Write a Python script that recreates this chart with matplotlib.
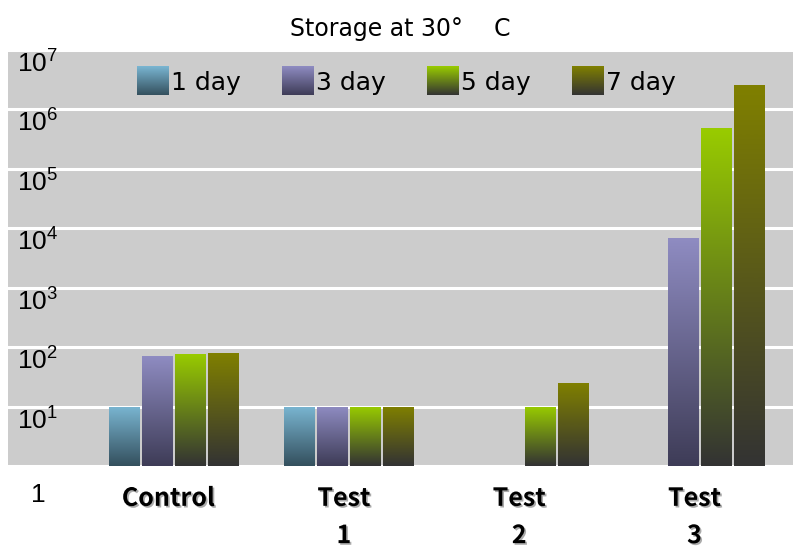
import numpy as np
import matplotlib
matplotlib.use("Agg")
import matplotlib.pyplot as plt
import matplotlib.patheffects as pe
from matplotlib import transforms
from matplotlib.colors import to_rgb
from matplotlib.image import BboxImage
from matplotlib.legend_handler import HandlerBase
from matplotlib.patches import Rectangle
from matplotlib.transforms import Bbox, TransformedBbox

# DATA
groups = ["Control", "Test\n1", "Test\n2", "Test\n3"]
series = ["1 day", "3 day", "5 day", "7 day"]
day1 = [10, 10, np.nan, np.nan]
day3 = [71, 10, np.nan, 6900]
day5 = [77, 10, 10, 487000]
day7 = [80, 10, 25, 2580000]
values = [day1, day3, day5, day7]

top_colors = ["#7AB6D2", "#8F8CC2", "#99CC00", "#808000"]
bottom_colors = ["#34505E", "#3E3C57", "#333333", "#333333"]

plt.rcParams['mathtext.fontset'] = 'custom'
plt.rcParams['mathtext.rm'] = 'Liberation Sans'
plt.rcParams['mathtext.it'] = 'Liberation Sans'
cjk = ['Noto Sans CJK JP', 'DejaVu Sans']
wide = ['DejaVu Sans', 'Noto Sans CJK JP']


def gradient(c_top, c_bot, n=256):
    t = np.linspace(0, 1, n)[:, None, None]
    a = np.array(to_rgb(c_top))[None, None, :]
    b = np.array(to_rgb(c_bot))[None, None, :]
    return a * (1 - t) + b * t


class GradHandler(HandlerBase):
    def __init__(self, c_top, c_bot):
        super().__init__()
        self.c_top = c_top
        self.c_bot = c_bot

    def create_artists(self, legend, orig_handle, xdescent, ydescent,
                       width, height, fontsize, trans):
        bb = Bbox.from_bounds(-xdescent, -ydescent, width, height)
        img = BboxImage(TransformedBbox(bb, trans), interpolation='bilinear')
        img.set_data(gradient(self.c_top, self.c_bot))
        return [img]


fig = plt.figure(figsize=(7.93, 5.5), dpi=100)
ax = fig.add_axes([8 / 793, 84 / 550, 785 / 793, 416 / 550])
ax.set_facecolor('#CCCCCC')
ax.set_yscale('log')

x = np.arange(len(groups))
step = 0.188
width = 0.177
bars = []
for i, vals in enumerate(values):
    heights = np.array(vals, dtype=float) - 1  # bars start at 1
    b = ax.bar(x + (i - 1.5) * step, heights, width, bottom=1,
               color=top_colors[i], edgecolor='none', zorder=2)
    bars.append(b)

ax.set_ylim(1, 1e7)
ax.set_xlim(-0.946, 3.532)
ax.set_autoscale_on(False)

# gradient fill for every bar
blend = transforms.blended_transform_factory(ax.transData, ax.transAxes)
to_axes = ax.transAxes.inverted()
for i, b in enumerate(bars):
    g = gradient(top_colors[i], bottom_colors[i])
    for p in b.patches:
        h = p.get_height()
        if not np.isfinite(h) or h <= 0:
            continue
        x0 = p.get_x()
        top = p.get_y() + h
        y_top = to_axes.transform(ax.transData.transform((x0, top)))[1]
        y_bot = to_axes.transform(ax.transData.transform((x0, p.get_y())))[1]
        ax.imshow(g, extent=[x0, x0 + p.get_width(), y_bot, y_top],
                  transform=blend, aspect='auto', zorder=2.5,
                  interpolation='bilinear')
ax.set_ylim(1, 1e7)
ax.set_xlim(-0.946, 3.532)

# grid
ax.set_yticks([10 ** k for k in range(0, 8)])
ax.yaxis.set_minor_locator(matplotlib.ticker.NullLocator())
ax.grid(axis='y', color='white', linewidth=2.2, zorder=1)
ax.set_axisbelow(True)
ax.tick_params(axis='y', length=0, labelleft=False)
for s in ax.spines.values():
    s.set_visible(False)

# y labels drawn inside the plot area
ylab_tr = transforms.blended_transform_factory(ax.transAxes, ax.transData)
for k in range(1, 8):
    ax.annotate(r'$10^{%d}$' % k, xy=(0.0115, 10 ** k), xycoords=ylab_tr,
                xytext=(0, -1), textcoords='offset points',
                ha='left', va='top', fontsize=19, zorder=5)
ax.annotate('1', xy=(0.038, 1), xycoords=ylab_tr, xytext=(0, -12),
            textcoords='offset points', ha='center', va='top',
            fontsize=19, family='Liberation Sans', annotation_clip=False)

# x labels
ax.set_xticks(x - 0.03, labels=groups)
ax.tick_params(axis='x', length=0, pad=15)
for lab in ax.get_xticklabels():
    lab.set_family(cjk)
    lab.set_fontweight('bold')
    lab.set_fontsize(18)
    lab.set_linespacing(1.7)
    lab.set_path_effects([pe.SimplePatchShadow(offset=(1.2, -1.2),
                                               shadow_rgbFace='#888888',
                                               alpha=0.7),
                          pe.Normal()])

# legend
handles = [Rectangle((0, 0), 1, 1) for _ in series]
hmap = {h: GradHandler(top_colors[i], bottom_colors[i])
        for i, h in enumerate(handles)}
ax.legend(handles, series, handler_map=hmap, ncol=4, frameon=False,
          loc='center', bbox_to_anchor=(0.508, 0.925),
          prop={'family': wide, 'size': 18},
          handlelength=1.28, handleheight=1.36, handletextpad=0.08,
          columnspacing=1.65)

ax.set_title('Storage at 30°\u3000 C', family=wide, fontsize=17, pad=10)

fig.savefig('out.png', dpi=100)
